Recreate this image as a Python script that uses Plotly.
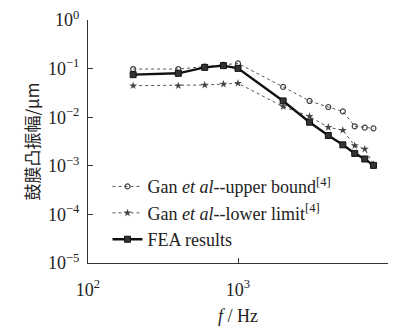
import plotly.graph_objects as go

freq = [200, 400, 600, 800, 1000, 2000, 3000, 4000, 5000, 6000, 7000, 8000]
upper = [0.098, 0.098, 0.11, 0.119, 0.128, 0.042, 0.0216, 0.0162, 0.0132, 0.0065, 0.0061, 0.0059]
lower = [0.0445, 0.0445, 0.046, 0.048, 0.05, 0.0165, 0.0104, 0.0062, 0.0054, 0.0026, 0.0022, 0.00107]
fea = [0.075, 0.080, 0.106, 0.115, 0.101, 0.0216, 0.0079, 0.0042, 0.0027, 0.0018, 0.00138, 0.00102]

xtick_vals = [100, 1000, 10000]
xtick_text = ["10<sup>2</sup>", "10<sup>3</sup>", "10<sup>4</sup>"]
ytick_vals = [1e-5, 1e-4, 1e-3, 1e-2, 1e-1, 1]
ytick_text = ["10<sup>−5</sup>", "10<sup>−4</sup>", "10<sup>−3</sup>", "10<sup>−2</sup>", "10<sup>−1</sup>", "10<sup>0</sup>"]

serif = "Liberation Serif, Times New Roman, serif"

fig = go.Figure()
fig.add_trace(go.Scatter(
    x=freq, y=upper, mode="lines+markers",
    name="Gan <i>et al</i>--upper bound<sup>[4]</sup>",
    line=dict(color="#555555", width=1, dash="dot"),
    marker=dict(symbol="circle-open", size=5, color="#444444", line=dict(width=1.2)),
))
fig.add_trace(go.Scatter(
    x=freq, y=lower, mode="lines+markers",
    name="Gan <i>et al</i>--lower limit<sup>[4]</sup>",
    line=dict(color="#555555", width=1, dash="dot"),
    marker=dict(symbol="star", size=6, color="#444444"),
))
fig.add_trace(go.Scatter(
    x=freq, y=fea, mode="lines+markers",
    name="FEA results",
    line=dict(color="#111111", width=2.4),
    marker=dict(symbol="square", size=6, color="#333333", line=dict(color="#111111", width=1)),
))

axis_common = dict(
    type="log", showgrid=False, zeroline=False, showline=True,
    linecolor="#333333", linewidth=1, ticks="inside", ticklen=5,
    tickcolor="#333333", tickfont=dict(family=serif, size=18, color="#222222"),
    mirror=False, automargin=False,
)
fig.update_xaxes(range=[2, 4], tickvals=xtick_vals, ticktext=xtick_text,
                 ticklabelstandoff=10,
                 title=dict(text="<i>f</i> / Hz", font=dict(family=serif, size=18, color="#222222"), standoff=10),
                 **axis_common)
fig.update_yaxes(range=[-5, 0], tickvals=ytick_vals, ticktext=ytick_text,
                 ticklabelstandoff=4,
                 title=dict(text="鼓膜凸振幅/μm", font=dict(family="Noto Sans CJK SC", size=17, color="#222222"), standoff=4),
                 **axis_common)

fig.update_layout(
    width=399, height=326,
    margin=dict(l=88, r=11, t=20, b=63),
    paper_bgcolor="white", plot_bgcolor="white",
    showlegend=True,
    legend=dict(x=0.065, y=0.39, xanchor="left", yanchor="top",
                bgcolor="rgba(0,0,0,0)", borderwidth=0,
                font=dict(family=serif, size=18, color="#222222"),
                itemwidth=30, tracegroupgap=0),
)

fig.write_html("out.html")
